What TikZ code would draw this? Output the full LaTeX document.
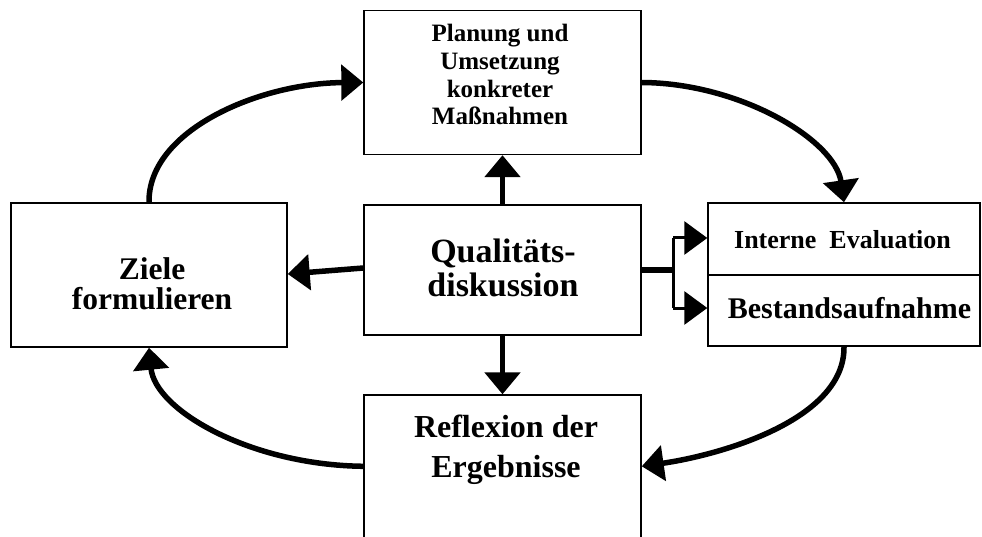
\documentclass[tikz,border=0pt]{standalone}
\usepackage{fontspec}
\setmainfont{Liberation Serif}
\usetikzlibrary{arrows.meta}
\begin{document}
\begin{tikzpicture}[x=1pt,y=-1pt,
  box/.style={draw, line width=1.4pt, rectangle, inner sep=0pt},
  lbl/.style={anchor=base, align=center, inner sep=0pt},
  flow/.style={line width=5.5pt, -{Triangle[length=22pt,width=35pt]}},
  branch/.style={line width=3pt, -{Triangle[length=23pt,width=33pt]}},
]
\useasboundingbox (0,0) rectangle (982,537);
\fill[white] (0,0) rectangle (982,537);
% boxes
\node[box, minimum width=277pt, minimum height=144pt] (top) at (502.5,82.5) {};
\node[box, minimum width=276pt, minimum height=144pt] (left) at (149,275) {};
\node[box, minimum width=277pt, minimum height=130pt] (mid) at (502.5,270) {};
\node[box, minimum width=272pt, minimum height=72pt] (rt) at (844,239) {};
\node[box, minimum width=272pt, minimum height=71pt] (rb) at (844,310.5) {};
\node[box, minimum width=277pt, minimum height=170pt] (bot) at (502.5,480) {};
% texts (anchor base = baseline of the last line)
\node[lbl, font=\fontsize{25}{27.7}\selectfont\bfseries] (ttop) at (500,125) {Planung und\\Umsetzung\\konkreter\\Maßnahmen};
\node[lbl, font=\fontsize{31.5}{30}\selectfont\bfseries] (tleft) at (152,309) {Ziele\\formulieren};
\node[lbl, font=\fontsize{34}{35}\selectfont\bfseries] (tmid) at (503,297) {Qualitäts-\\diskussion};
\node[lbl, font=\fontsize{26}{30}\selectfont\bfseries] (trt) at (842.5,249) {Interne\ \ Evaluation};
\node[lbl, font=\fontsize{30}{34}\selectfont\bfseries] (trb) at (849.5,318) {Bestandsaufnahme};
\node[lbl, font=\fontsize{32}{40}\selectfont\bfseries] (tbot) at (506,477) {Reflexion der\\Ergebnisse};
% straight arrows from the centre
\draw[flow] (mid.north) -- (top.south);
\draw[flow] ([yshift=2pt]mid.west) -- ([yshift=1pt]left.east);
\draw[flow] (mid.south) -- (bot.north);
% bracket to the right box
\coordinate (fork) at (673,270);
\coordinate (forkT) at (673,238);
\coordinate (forkB) at (673,308);
\draw[line width=5.5pt] (mid.east) -- (fork);
\draw[line width=3pt] (forkT) -- (forkB);
\draw[branch] (forkT) -- (forkT -| rt.west);
\draw[branch] (forkB) -- (forkB -| rb.west);
% cycle curves
\draw[flow] (left.north) .. controls (148,130) and (260,83) .. (top.west);
\draw[flow] (top.east) .. controls (740,83) and (835,140) .. (rt.north);
\draw[flow] (rb.south) .. controls (845,420) and (720,455) .. ([yshift=-72pt]bot.north east);
\draw[flow] ([yshift=-72pt]bot.north west) .. controls (250,465) and (155,410) .. (left.south);
\end{tikzpicture}
\end{document}
